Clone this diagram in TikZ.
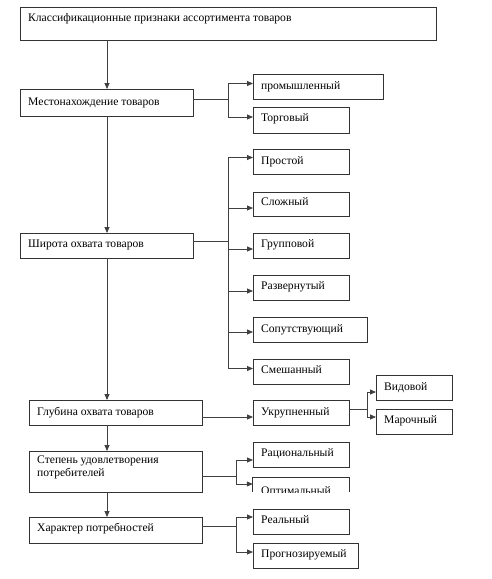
\documentclass[tikz,border=0pt]{standalone}
\usepackage{fontspec}
\setmainfont{Liberation Serif}
\usetikzlibrary{arrows.meta,calc}
\newcommand\bx[7]{%
  \node[box, minimum width={(#4-#2)*1pt}, minimum height={(#5-#3)*1pt}] (#1) at ({(#2+#4)/2},{(#3+#5)/2}) {};
  \node[lbl] (#1-t) at ({#2+8},#6) {#7};
}
\begin{document}
\begin{tikzpicture}[x=1pt,y=-1pt,
  box/.style={draw=black!80, line width=0.95pt, inner sep=0pt, outer sep=0pt},
  lbl/.style={anchor=base west, inner sep=0pt, font=\fontsize{11.6}{13}\selectfont},
  con/.style={draw=black!75, line width=0.85pt},
  arr/.style={con, -{Triangle[length=6pt,width=5pt]}}]
\useasboundingbox[fill=white] (0,0) rectangle (491,579);

\bx{top}{20}{7}{436}{40}{21}{Классификационные признаки ассортимента товаров}
\bx{mest}{20}{89}{193}{116}{105}{Местонахождение товаров}
\bx{prom}{253}{74}{383}{99}{89}{промышленный}
\bx{torg}{253}{107}{349}{133}{121}{Торговый}
\bx{shir}{20}{233}{193}{258}{247}{Широта охвата товаров}
\bx{pros}{253}{149}{349}{174}{164}{Простой}
\bx{sloz}{253}{192}{349}{216}{205}{Сложный}
\bx{grup}{253}{233}{349}{258}{247}{Групповой}
\bx{razv}{253}{275}{349}{300}{289}{Развернутый}
\bx{sopu}{253}{317}{367}{342}{332}{Сопутствующий}
\bx{smes}{253}{359}{349}{384}{373}{Смешанный}
\bx{vid}{376}{375}{452}{400}{390}{Видовой}
\bx{glub}{29}{400}{202}{425}{415}{Глубина охвата товаров}
\bx{ukr}{253}{400}{349}{425}{415}{Укрупненный}
\bx{mar}{376}{409}{452}{434}{423}{Марочный}
\node[box, minimum width=173pt, minimum height=41pt] (step) at (115.5,471.5) {};
\node[lbl, anchor=north west, align=left] (step-t) at (37,456) {Степень удовлетворения\\потребителей};
\bx{rac}{253}{442}{349}{467}{456}{Рациональный}
\bx{har}{29}{517}{202}{543}{531}{Характер потребностей}
\bx{real}{253}{509}{349}{534}{523}{Реальный}
\bx{prog}{253}{543}{358}{568}{557}{Прогнозируемый}
% clipped box "Оптимальный"
\node[inner sep=0pt, minimum width=96pt, minimum height=14pt] (opt) at (301,485) {};
\draw[draw=black!80, line width=0.95pt] (opt.south west) -- (opt.north west) -- (opt.north east) -- (opt.south east);
\begin{scope}
  \clip (opt.north west) rectangle (opt.south east);
  \node[lbl] (opt-t) at (261,494.5) {Оптимальный};
\end{scope}

% spine
\coordinate (spine) at (107,0);
\draw[arr] (top.south -| spine) -- (mest.north -| spine);
\draw[arr] (mest.south -| spine) -- (shir.north -| spine);
\draw[arr] (shir.south -| spine) -- (glub.north -| spine);
\draw[arr] (glub.south -| spine) -- (step.north -| spine);
\draw[arr] (step.south -| spine) -- (har.north -| spine);

% Местонахождение
\coordinate (j1) at (228,0);
\draw[con] ([yshift=3pt]mest.east) -- ([yshift=3pt]mest.east -| j1);
\draw[con] ([yshift=3pt]prom.west -| j1) -- ([yshift=3pt]torg.west -| j1);
\draw[arr] ([yshift=3pt]prom.west -| j1) -- ([yshift=3pt]prom.west);
\draw[arr] ([yshift=3pt]torg.west -| j1) -- ([yshift=3pt]torg.west);

% Широта
\draw[con] ([yshift=4pt]shir.east) -- ([yshift=4pt]shir.east -| j1);
\draw[con] ([yshift=4pt]pros.west -| j1) -- ([yshift=3pt]smes.west -| j1);
\draw[arr] ([yshift=4pt]pros.west -| j1) -- ([yshift=4pt]pros.west);
\draw[arr] ([yshift=-4pt]sloz.west -| j1) -- ([yshift=-4pt]sloz.west);
\draw[arr] ([yshift=-3.5pt]grup.west -| j1) -- ([yshift=-3.5pt]grup.west);
\draw[arr] ([yshift=-3.5pt]razv.west -| j1) -- ([yshift=-3.5pt]razv.west);
\draw[arr] ([yshift=-2.5pt]sopu.west -| j1) -- ([yshift=-2.5pt]sopu.west);
\draw[arr] ([yshift=3pt]smes.west -| j1) -- ([yshift=3pt]smes.west);

% Глубина
\draw[arr] ([yshift=-4.5pt]glub.east) -- ([yshift=-4.5pt]ukr.west);
\coordinate (j3) at (367,0);
\draw[con] ([yshift=3.5pt]ukr.east) -- ([yshift=3.5pt]ukr.east -| j3);
\draw[con] ([yshift=-4.5pt]vid.west -| j3) -- ([yshift=4.5pt]mar.west -| j3);
\draw[arr] ([yshift=-4.5pt]vid.west -| j3) -- ([yshift=-4.5pt]vid.west);
\draw[arr] ([yshift=4.5pt]mar.west -| j3) -- ([yshift=4.5pt]mar.west);

% Степень
\coordinate (j4) at (236,0);
\draw[con] ([yshift=-4.5pt]step.east) -- ([yshift=-4.5pt]step.east -| j4);
\draw[con] ([yshift=-5.5pt]rac.west -| j4) -- ([yshift=1pt]opt.west -| j4);
\draw[arr] ([yshift=-5.5pt]rac.west -| j4) -- ([yshift=-5.5pt]rac.west);
\draw[arr] ([yshift=1pt]opt.west -| j4) -- ([yshift=1pt]opt.west);

% Характер
\draw[con] ([yshift=4pt]har.east) -- ([yshift=4pt]har.east -| j4);
\draw[con] ([yshift=4.5pt]real.west -| j4) -- ([yshift=3.5pt]prog.west -| j4);
\draw[arr] ([yshift=4.5pt]real.west -| j4) -- ([yshift=4.5pt]real.west);
\draw[arr] ([yshift=3.5pt]prog.west -| j4) -- ([yshift=3.5pt]prog.west);
\end{tikzpicture}
\end{document}
